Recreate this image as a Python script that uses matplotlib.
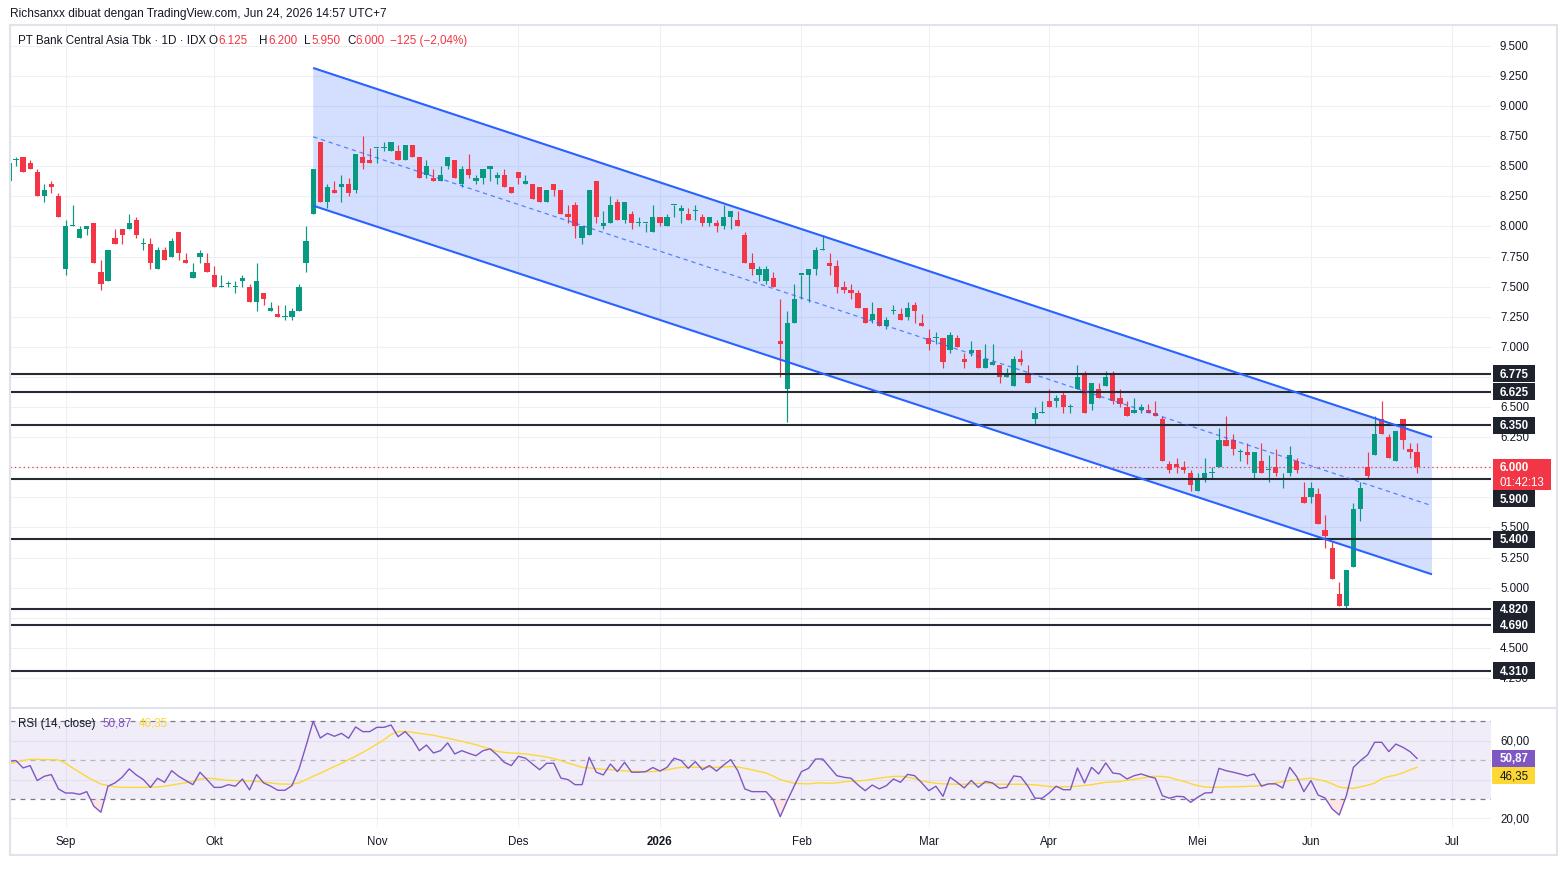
import matplotlib
matplotlib.use("Agg")
import matplotlib.pyplot as plt
import numpy as np
from matplotlib.patches import Rectangle
from matplotlib.lines import Line2D

plt.rcParams['font.family'] = ['Liberation Sans', 'DejaVu Sans']

# ---------------- data ----------------
opens = [8375, 8550, 8575, 8525, 8450, 8250, 8350, 8250, 7650, 8000,
         7900, 7975, 8025, 7625, 7550, 7900, 7975, 7975, 8050, 7850,
         7850, 7650, 7800, 7750, 7950, 7725, 7575, 7750, 7700, 7600,
         7500, 7525, 7500, 7550, 7500, 7375, 7450, 7300, 7275, 7250,
         7250, 7300, 7700, 8100, 8700, 8200, 8300, 8325, 8350, 8300,
         8575, 8550, 8650, 8650, 8625, 8625, 8550, 8675, 8575, 8425,
         8400, 8375, 8500, 8550, 8350, 8475, 8375, 8400, 8475, 8400,
         8425, 8325, 8450, 8350, 8350, 8325, 8200, 8350, 8300, 8100,
         8175, 7900, 7925, 8375, 8000, 8025, 8200, 8050, 8100, 8025,
         8025, 7950, 8075, 8000, 8175, 8125, 8100, 8125, 8075, 8025,
         8025, 8000, 8075, 8050, 7925, 7700, 7600, 7550, 7575, 7050,
         6650, 7200, 7600, 7600, 7650, 7800, 7700, 7675, 7500, 7475,
         7450, 7325, 7225, 7325, 7175, 7300, 7275, 7250, 7350, 7200,
         7075, 7075, 7075, 6975, 7075, 6900, 6950, 6975, 6825, 6850,
         6850, 6750, 6675, 6900, 6775, 6400, 6450, 6550, 6550, 6600,
         6500, 6650, 6775, 6525, 6650, 6675, 6775, 6575, 6500, 6450,
         6475, 6475, 6450, 6400, 6025, 6025, 6000, 5950, 5800, 5900,
         5950, 6000, 6225, 6225, 6125, 6125, 5950, 6050, 5975, 6000,
         5900, 5950, 6050, 5750, 5750, 5775, 5475, 5325, 4950, 4850,
         5175, 5650, 6000, 6100, 6400, 6250, 6050, 6400, 6150, 6125]
highs = [8550, 8575, 8575, 8550, 8475, 8350, 8375, 8275, 8050, 8175,
         8000, 8000, 8025, 7725, 7800, 7975, 7975, 8100, 8075, 7900,
         7900, 7825, 7825, 7900, 7950, 7775, 7700, 7800, 7775, 7675,
         7600, 7550, 7550, 7600, 7525, 7700, 7450, 7375, 7350, 7350,
         7325, 7525, 8000, 8475, 8700, 8350, 8375, 8425, 8400, 8600,
         8750, 8650, 8650, 8700, 8700, 8675, 8675, 8675, 8575, 8550,
         8475, 8500, 8575, 8550, 8500, 8600, 8425, 8475, 8500, 8450,
         8475, 8325, 8450, 8425, 8350, 8325, 8300, 8350, 8300, 8175,
         8200, 8000, 8300, 8375, 8125, 8250, 8225, 8200, 8125, 8075,
         8025, 8175, 8075, 8100, 8175, 8175, 8150, 8175, 8100, 8075,
         8050, 8175, 8125, 8125, 7950, 7775, 7675, 7675, 7625, 7400,
         7300, 7525, 7600, 7650, 7825, 7925, 7775, 7725, 7550, 7525,
         7475, 7325, 7375, 7325, 7250, 7350, 7325, 7375, 7375, 7275,
         7150, 7125, 7075, 7125, 7100, 6950, 7050, 6975, 7025, 7025,
         6850, 6825, 6925, 6975, 6850, 6500, 6550, 6650, 6600, 6625,
         6525, 6850, 6800, 6700, 6700, 6800, 6800, 6650, 6550, 6575,
         6525, 6525, 6550, 6425, 6050, 6075, 6050, 5975, 5950, 6075,
         6000, 6325, 6425, 6275, 6150, 6200, 6125, 6200, 6100, 6150,
         5950, 6175, 6075, 5875, 5875, 5825, 5600, 5375, 5050, 5150,
         5700, 5875, 6125, 6425, 6550, 6275, 6300, 6400, 6200, 6200]
lows = [8350, 8500, 8450, 8475, 8250, 8200, 8275, 8075, 7600, 8000,
        7900, 7925, 7700, 7475, 7550, 7850, 7850, 7975, 7900, 7800,
        7650, 7650, 7725, 7750, 7725, 7700, 7575, 7700, 7625, 7500,
        7500, 7500, 7450, 7500, 7375, 7300, 7350, 7300, 7250, 7225,
        7225, 7300, 7625, 8100, 8200, 8150, 8275, 8200, 8250, 8275,
        8475, 8525, 8525, 8625, 8625, 8550, 8550, 8575, 8400, 8400,
        8375, 8375, 8475, 8400, 8325, 8400, 8350, 8350, 8375, 8350,
        8325, 8275, 8350, 8350, 8225, 8200, 8200, 8250, 8100, 8025,
        7900, 7850, 7925, 8025, 7975, 8025, 8050, 8025, 7975, 8000,
        7950, 7950, 8000, 8000, 8075, 8025, 8050, 8050, 8000, 8000,
        7950, 7975, 7975, 8000, 7700, 7600, 7550, 7525, 7500, 6750,
        6375, 7200, 7400, 7375, 7600, 7800, 7600, 7450, 7450, 7400,
        7325, 7200, 7200, 7175, 7150, 7275, 7225, 7225, 7200, 7175,
        6975, 7025, 6825, 6950, 7000, 6825, 6925, 6825, 6825, 6850,
        6700, 6750, 6675, 6850, 6700, 6350, 6450, 6500, 6500, 6450,
        6450, 6650, 6450, 6475, 6575, 6675, 6525, 6500, 6425, 6450,
        6450, 6450, 6425, 6050, 5950, 5950, 5950, 5800, 5800, 5875,
        5900, 6000, 6175, 6100, 6050, 6025, 5900, 5950, 5875, 5925,
        5825, 5925, 5950, 5700, 5700, 5525, 5325, 5075, 4850, 4825,
        5175, 5550, 5900, 6100, 6275, 6075, 6050, 6150, 6075, 5950]
closes = [8525, 8550, 8450, 8475, 8250, 8300, 8325, 8075, 8000, 8000,
          7975, 8000, 7700, 7525, 7800, 7850, 7925, 8025, 7925, 7850,
          7700, 7800, 7725, 7875, 7775, 7700, 7625, 7775, 7625, 7500,
          7500, 7525, 7500, 7575, 7375, 7550, 7400, 7325, 7250, 7250,
          7300, 7500, 7875, 8475, 8200, 8325, 8275, 8350, 8275, 8600,
          8525, 8525, 8650, 8650, 8700, 8550, 8675, 8575, 8400, 8500,
          8375, 8425, 8575, 8400, 8475, 8425, 8400, 8475, 8500, 8425,
          8325, 8275, 8400, 8375, 8225, 8200, 8300, 8300, 8100, 8075,
          8000, 8000, 8300, 8075, 8025, 8175, 8050, 8200, 8025, 8025,
          8025, 8075, 8025, 8075, 8175, 8150, 8050, 8125, 8025, 8075,
          8000, 8075, 8125, 8000, 7700, 7650, 7650, 7650, 7500, 7025,
          7200, 7400, 7600, 7650, 7800, 7800, 7675, 7500, 7475, 7450,
          7325, 7200, 7275, 7175, 7225, 7300, 7225, 7325, 7300, 7175,
          7025, 7075, 6875, 7100, 7000, 6875, 6975, 6825, 6900, 6875,
          6750, 6775, 6900, 6875, 6700, 6450, 6450, 6500, 6575, 6500,
          6500, 6750, 6450, 6700, 6575, 6750, 6550, 6525, 6425, 6475,
          6500, 6450, 6425, 6050, 5975, 6000, 5975, 5850, 5900, 5950,
          5950, 6225, 6175, 6150, 6125, 6100, 6125, 5950, 5975, 5950,
          5900, 6100, 5975, 5700, 5825, 5525, 5425, 5075, 4850, 5150,
          5650, 5825, 5925, 6275, 6275, 6075, 6300, 6225, 6125, 6000]

rsi_values = [49.4, 49.8, 46.0, 47.2, 39.5, 41.7, 42.6, 35.2, 33.1, 33.1,
              32.4, 33.8, 26.3, 23.2, 36.6, 38.3, 41.2, 45.5, 42.4, 40.0,
              36.0, 40.7, 38.6, 44.6, 41.7, 39.5, 37.4, 43.8, 40.0, 36.0,
              36.0, 37.4, 36.6, 40.3, 34.7, 42.6, 38.3, 36.6, 34.5, 34.5,
              36.9, 45.5, 57.5, 70.0, 61.4, 63.8, 62.3, 63.8, 61.3, 67.1,
              64.7, 64.7, 66.9, 66.9, 68.1, 62.1, 64.7, 60.9, 54.9, 57.8,
              53.7, 54.9, 58.9, 53.2, 54.9, 53.5, 52.3, 54.9, 55.8, 52.7,
              48.9, 47.2, 52.0, 51.0, 48.0, 45.1, 48.4, 48.4, 40.8, 40.0,
              37.4, 37.4, 51.5, 43.8, 42.4, 48.0, 44.1, 48.9, 43.8, 43.8,
              44.1, 46.2, 44.4, 46.3, 51.0, 49.8, 45.8, 49.2, 45.1, 47.2,
              44.4, 47.5, 50.3, 44.6, 35.2, 33.8, 33.8, 33.8, 29.7, 20.9,
              29.2, 36.9, 44.1, 45.8, 50.6, 50.6, 46.3, 42.0, 41.2, 40.7,
              37.2, 34.3, 37.2, 35.2, 36.9, 40.3, 38.6, 42.7, 42.0, 38.3,
              34.3, 36.6, 31.4, 41.2, 38.6, 35.7, 39.6, 36.0, 39.0, 38.3,
              35.5, 36.0, 41.9, 41.4, 36.6, 30.4, 30.4, 33.1, 36.6, 34.8,
              34.8, 46.0, 38.3, 46.3, 42.9, 48.6, 43.4, 42.9, 40.3, 42.0,
              42.9, 41.7, 40.7, 31.7, 30.4, 31.4, 31.2, 28.3, 30.9, 33.1,
              33.3, 45.8, 44.6, 43.8, 42.9, 41.9, 42.9, 36.6, 37.8, 37.8,
              35.7, 46.3, 41.5, 33.8, 39.5, 32.1, 30.5, 24.9, 21.8, 31.7,
              46.3, 49.8, 52.7, 59.2, 59.2, 54.4, 58.3, 56.6, 54.4, 50.87]
rsi_ma_values = [48.0, 49.0, 49.8, 50.4, 50.4, 50.3, 50.2, 50.1, 48.5, 46.0,
                 43.8, 41.5, 39.5, 37.7, 37.0, 36.3, 36.0, 36.0, 36.0, 36.0,
                 36.0, 36.2, 36.6, 37.2, 37.8, 38.4, 39.0, 40.3, 40.7, 40.5,
                 40.0, 39.6, 39.5, 39.4, 39.3, 39.1, 38.8, 38.3, 37.8, 37.7,
                 37.6, 38.3, 40.0, 41.7, 43.3, 45.0, 46.8, 48.3, 50.3, 52.0,
                 54.0, 56.0, 58.3, 60.5, 63.2, 64.7, 64.8, 64.4, 63.8, 63.3,
                 62.8, 62.0, 61.3, 60.5, 59.7, 58.8, 58.0, 56.8, 55.8, 54.5,
                 54.0, 53.7, 53.5, 53.2, 52.7, 52.2, 51.6, 50.8, 49.8, 48.5,
                 47.5, 46.3, 46.0, 45.6, 45.3, 45.1, 44.8, 44.5, 44.3, 44.2,
                 44.1, 44.1, 44.6, 45.0, 45.8, 46.3, 46.3, 46.3, 46.3, 46.3,
                 46.3, 46.5, 46.7, 46.5, 45.8, 45.0, 44.2, 43.4, 41.8, 40.0,
                 39.0, 38.1, 37.9, 37.8, 38.2, 38.3, 38.1, 38.3, 38.8, 39.2,
                 39.4, 39.6, 40.2, 40.8, 41.2, 41.6, 41.7, 41.2, 40.5, 39.3,
                 38.7, 38.1, 37.8, 37.7, 37.6, 37.6, 37.8, 38.0, 38.1, 37.9,
                 37.6, 37.6, 37.6, 37.6, 37.5, 37.3, 36.9, 36.5, 36.2, 36.3,
                 36.4, 36.6, 37.0, 37.4, 38.0, 38.6, 38.8, 39.0, 39.6, 40.1,
                 40.7, 41.3, 41.7, 41.6, 41.2, 40.0, 39.2, 37.9, 36.9, 36.2,
                 36.0, 36.1, 36.2, 36.3, 36.4, 36.5, 36.6, 37.1, 37.7, 38.3,
                 38.9, 39.5, 39.9, 40.4, 40.7, 40.0, 39.2, 37.8, 36.1, 35.7,
                 35.5, 36.3, 37.1, 38.2, 40.5, 41.6, 42.3, 43.5, 45.0, 46.35]

month_labels = ["Sep", "Okt", "Nov", "Des", "2026", "Feb", "Mar", "Apr", "Mei", "Jun", "Jul"]
month_bar_index = [8, 29, 52, 72, 92, 112, 130, 147, 168, 184, 204]

levels = [6775, 6625, 6350, 5900, 5400, 4820, 4690, 4310]
last_price = 6000
countdown = "01:42:13"

# regression channel drawing: bar index and prices at both ends
channel_bars = [43, 201.1]
channel_upper = [9316, 6250]
channel_lower = [8172, 5110]

title_text = "Richsanxx dibuat dengan TradingView.com, Jun 24, 2026 14:57 UTC+7"
symbol_text = "PT Bank Central Asia Tbk \u00b7 1D \u00b7 IDX"
ohlc_letters = ["O", "H", "L", "C"]
ohlc_values = ["6.125", "6.200", "5.950", "6.000"]
change_text = "\u2212125 (\u22122,04%)"

# ---------------- styling ----------------
UP, DN = "#089981", "#F23645"
GRID = "#EEF0F4"
TXT = "#131722"
FRAME = "#E0E3EB"

W, H = 1567, 870
fig = plt.figure(figsize=(W / 100, H / 100), dpi=100)
fig.patch.set_facecolor("white")
renderer = fig.canvas.get_renderer()

PL, PR = 10.0, 1490.7
PT, PB = 26.0, 709.3
RT, RB = 709.3, 828.0
FR, FBOT = 1556.7, 855.7
YMIN, YMAX = 3997.5, 9672.8
RMIN, RMAX = 15.6, 76.7
XMIN, XMAX = 0.155, 209.4


def fx(px):
    return px / W


def fy(py):
    return 1 - py / H


def price_py(p):
    return PT + (YMAX - p) / (YMAX - YMIN) * (PB - PT)


def rsi_py(v):
    return RT + (RMAX - v) / (RMAX - RMIN) * (RB - RT)


ax = fig.add_axes([fx(PL), fy(PB), (PR - PL) / W, (PB - PT) / H])
ar = fig.add_axes([fx(PL), fy(RB), (PR - PL) / W, (RB - RT) / H])
for a in (ax, ar):
    for s in a.spines.values():
        s.set_visible(False)
    a.set_xticks([])
    a.set_yticks([])
    a.set_xlim(XMIN, XMAX)
    a.set_facecolor("none")
ax.set_ylim(YMIN, YMAX)
ar.set_ylim(RMIN, RMAX)

# grids
for v in range(4250, 9751, 250):
    ax.axhline(v, color=GRID, lw=0.8, zorder=0)
for t in month_bar_index:
    ax.axvline(t, color=GRID, lw=0.8, zorder=0)
    ar.axvline(t, color=GRID, lw=0.8, zorder=0)
for v in (20, 40, 60):
    ar.axhline(v, color=GRID, lw=0.8, zorder=0)

# channel
cx = channel_bars
ax.fill([cx[0], cx[1], cx[1], cx[0]],
        [channel_upper[0], channel_upper[1], channel_lower[1], channel_lower[0]],
        color="#2962FF", alpha=0.2, lw=0, zorder=1)
ax.plot(cx, channel_upper, color="#2962FF", lw=1.5, zorder=5, solid_capstyle="butt")
ax.plot(cx, channel_lower, color="#2962FF", lw=1.5, zorder=5, solid_capstyle="butt")
mid = [(channel_upper[i] + channel_lower[i]) / 2 for i in range(2)]
ax.plot(cx, mid, color="#2962FF", lw=0.9, ls=(0, (3.5, 3)), alpha=0.75, zorder=5)

# candles
n = len(closes)
xs = np.arange(n)
for i in range(n):
    o, h, l, c = opens[i], highs[i], lows[i], closes[i]
    col = UP if c >= o else DN
    ax.vlines(i, l, h, color=col, lw=0.85, zorder=3)
    lo = min(o, c)
    hh = max(abs(c - o), 9)
    ax.add_patch(Rectangle((i - 0.37, lo), 0.74, hh, facecolor=col, edgecolor="none", zorder=3))

# horizontal levels
for lv in levels:
    ax.axhline(lv, color="#262A33", lw=1.5, zorder=4)
ax.axhline(last_price, color=DN, lw=0.9, ls=(0, (1, 2.5)), zorder=4)

# RSI pane
ar.axhspan(30, 70, color="#7E57C2", alpha=0.1, lw=0, zorder=0)
ar.axhline(70, color="#787B86", lw=0.9, ls=(0, (4, 4)), zorder=1)
ar.axhline(30, color="#787B86", lw=0.9, ls=(0, (4, 4)), zorder=1)
ar.axhline(50, color="#787B86", lw=0.9, ls=(0, (4, 4)), alpha=0.5, zorder=1)
r = np.array(rsi_values)
ar.fill_between(xs, r, 30, where=r < 30, interpolate=True, color="#F23645", alpha=0.13, lw=0, zorder=1)
ar.fill_between(xs, r, 70, where=r > 70, interpolate=True, color="#089981", alpha=0.13, lw=0, zorder=1)
ar.plot(xs, rsi_ma_values, color="#FDD835", lw=1.0, zorder=2)
ar.plot(xs, rsi_values, color="#7E57C2", lw=1.0, zorder=3)

# frame and pane separator
fig.add_artist(Rectangle((fx(PL), fy(FBOT)), (FR - PL) / W, (FBOT - PT) / H, fill=False,
                         edgecolor=FRAME, lw=1.5, transform=fig.transFigure, zorder=0.5))
fig.add_artist(Line2D([fx(PL), fx(FR)], [fy(RT), fy(RT)], color=FRAME, lw=1.5,
                      transform=fig.transFigure, zorder=0.5))

FS = 8.3

# ----- right-axis label boxes (computed first so fully covered tick labels are skipped) -----
cy = price_py(last_price)
box_top, box_bot = cy - 8.5, cy + 22.5
label_boxes = [(box_top, box_bot)]
level_label_y = []
for lv in levels:
    ly = price_py(lv)
    if ly + 8.5 > box_top and ly - 8.5 < box_bot:
        ly = box_bot + 9.0
    level_label_y.append(ly)
    label_boxes.append((ly - 8.5, ly + 8.5))


def covered(py, half=4.5):
    # True when the text band [py-half, py+half] lies inside the union of the label boxes
    top, bot = py - half, py + half
    segs = sorted(b for b in label_boxes if b[1] > top and b[0] < bot)
    cur = top
    for t0, b0 in segs:
        if t0 > cur + 0.5:
            return False
        cur = max(cur, b0)
        if cur >= bot:
            return True
    return cur >= bot


# price axis labels
for v in range(4250, 9501, 250):
    py = price_py(v)
    if covered(py):
        continue
    s = f"{v:,}".replace(",", ".")
    fig.text(fx(1500), fy(py), s, ha="left", va="center", fontsize=FS, color=TXT, zorder=3)

# current price box
fig.add_artist(Rectangle((fx(1493), fy(box_bot)), 58 / W, 31 / H, facecolor=DN, edgecolor="none",
                         transform=fig.transFigure, zorder=4))
fig.text(fx(1500), fy(cy), f"{last_price:,}".replace(",", "."), ha="left", va="center",
         fontsize=FS, color="white", fontweight="bold", zorder=5)
fig.text(fx(1500), fy(cy + 14.5), countdown, ha="left", va="center",
         fontsize=FS, color="white", zorder=5)

# level boxes
for lv, ly in zip(levels, level_label_y):
    fig.add_artist(Rectangle((fx(1493), fy(ly + 8.5)), 42 / W, 17 / H, facecolor="#1E222D",
                             edgecolor="none", transform=fig.transFigure, zorder=4))
    fig.text(fx(1500), fy(ly), f"{lv:,}".replace(",", "."), ha="left", va="center",
             fontsize=FS, color="white", fontweight="bold", zorder=5)

# RSI axis labels + value boxes
ry = rsi_py(rsi_values[-1])
my = ry + 17
for v in (60, 40, 20):
    py = rsi_py(v)
    if abs(py - my) < 10 or abs(py - ry) < 10:
        continue
    fig.text(fx(1500), fy(py), f"{v},00", ha="left", va="center", fontsize=FS, color=TXT, zorder=3)
fig.add_artist(Rectangle((fx(1492), fy(ry + 8.5)), 43 / W, 17 / H, facecolor="#7E57C2",
                         edgecolor="none", transform=fig.transFigure, zorder=4))
fig.text(fx(1500), fy(ry), f"{rsi_values[-1]:.2f}".replace(".", ","), ha="left", va="center",
         fontsize=FS, color="white", fontweight="bold", zorder=5)
fig.add_artist(Rectangle((fx(1492), fy(my + 8.5)), 43 / W, 17 / H, facecolor="#FDD835",
                         edgecolor="none", transform=fig.transFigure, zorder=4))
fig.text(fx(1500), fy(my), f"{rsi_ma_values[-1]:.2f}".replace(".", ","), ha="left", va="center",
         fontsize=FS, color=TXT, zorder=5)


# date labels
def bar_px(i):
    return PL + (i - XMIN) / (XMAX - XMIN) * (PR - PL)


for lab, t in zip(month_labels, month_bar_index):
    fig.text(fx(bar_px(t)), fy(842), lab, ha="center", va="center", fontsize=FS, color=TXT,
             fontweight="bold" if lab.isdigit() else "normal")


# header
def put(x, y, s, color, fs=8.4, weight="normal"):
    t = fig.text(fx(x), fy(y), s, ha="left", va="center", fontsize=fs, color=color, fontweight=weight)
    bb = t.get_window_extent(renderer)
    return x + bb.width


fig.text(fx(10), fy(14), title_text, ha="left", va="center", fontsize=8.6, color=TXT)
put(18, 41, symbol_text, TXT)
letter_x = [209, 259, 304, 347]
for lt, vv, lx in zip(ohlc_letters, ohlc_values, letter_x):
    xe = put(lx, 41, lt, TXT)
    put(xe + 0.5, 41, vv, DN)
put(390, 41, change_text, DN)

# RSI legend
xe = put(18, 724, "RSI (14, close)", TXT)
xe = put(xe + 7, 724, f"{rsi_values[-1]:.2f}".replace(".", ","), "#7E57C2")
put(xe + 7, 724, f"{rsi_ma_values[-1]:.2f}".replace(".", ","), "#FDD835")

fig.savefig("out.png", dpi=100, facecolor="white")
